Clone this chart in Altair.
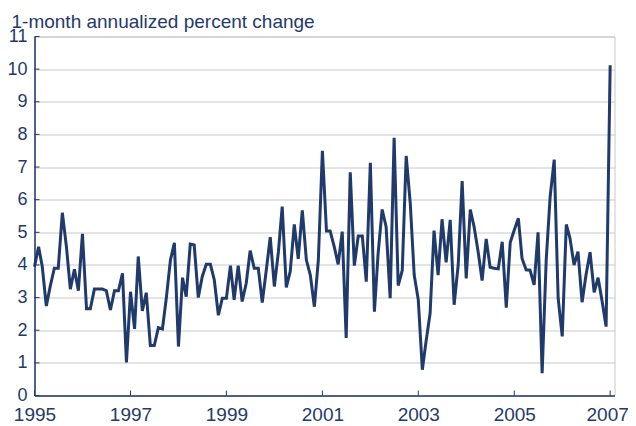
import altair as alt
import pandas as pd

NAVY = "#1f3a6b"
GRID = "#c8c8c8"
FONT = "Liberation Sans"

title_text = "1-month annualized percent change"

# Monthly values, Jan 1995 .. Jan 2007
v1995 = [3.95, 4.56, 3.95, 2.74, 3.35, 3.90, 3.90, 5.60, 4.56, 3.26, 3.87, 3.21]
v1996 = [4.95, 2.66, 2.66, 3.26, 3.26, 3.26, 3.21, 2.62, 3.21, 3.21, 3.74, 1.01]
v1997 = [3.18, 2.04, 4.26, 2.59, 3.15, 1.53, 1.53, 2.08, 2.04, 3.00, 4.15, 4.68]
v1998 = [1.50, 3.61, 3.03, 4.64, 4.61, 3.00, 3.64, 4.02, 4.02, 3.54, 2.46, 2.98]
v1999 = [2.98, 3.98, 2.93, 3.98, 2.88, 3.44, 4.44, 3.90, 3.90, 2.85, 3.85, 4.85]
v2000 = [3.34, 4.40, 5.79, 3.31, 3.80, 5.24, 4.19, 5.67, 4.15, 3.69, 2.72, 4.15]
v2001 = [7.50, 5.04, 5.04, 4.56, 4.02, 5.02, 1.76, 6.84, 3.98, 4.89, 4.89, 3.49]
v2002 = [7.13, 2.57, 4.34, 5.70, 5.17, 2.98, 7.90, 3.37, 3.83, 7.34, 5.89, 3.69]
v2003 = [2.93, 0.79, 1.65, 2.52, 5.05, 3.69, 5.40, 4.08, 5.38, 2.78, 4.00, 6.57]
v2004 = [3.59, 5.70, 5.17, 4.40, 3.52, 4.80, 3.93, 3.90, 3.88, 4.71, 2.69, 4.69]
v2005 = [5.07, 5.43, 4.20, 3.85, 3.84, 3.39, 5.00, 0.68, 4.15, 6.09, 7.23, 2.98]
v2006 = [1.81, 5.24, 4.82, 4.00, 4.41, 2.86, 3.69, 4.39, 3.16, 3.61, 2.88, 2.11]
v2007 = [10.12]

values = (v1995 + v1996 + v1997 + v1998 + v1999 + v2000 + v2001 + v2002
          + v2003 + v2004 + v2005 + v2006 + v2007)
dates = pd.date_range("1995-01-01", periods=len(values), freq="MS")
df = pd.DataFrame({"date": dates, "value": values})

tick_years = [1995, 1997, 1999, 2001, 2003, 2005, 2007]
ticks_df = pd.DataFrame({"date": pd.to_datetime([f"{y}-01-01" for y in tick_years])})
y_ticks = list(range(0, 12))
yticks_df = pd.DataFrame({"value": y_ticks})

W, H = 580, 359

xscale = alt.Scale(domain=["1995-01-01", "2007-02-03"])
yscale = alt.Scale(domain=[0, 11], nice=False)
xaxis = alt.Axis(
    values=[f"{y}-01-01" for y in tick_years], format="%Y", labelFontSize=19,
    labelFont=FONT, labelColor=NAVY, ticks=False, grid=False, domainColor=NAVY,
    domainWidth=1.5, labelPadding=10, title=None, labelFlush=False,
    labelOffset={"condition": {"test": "year(datum.value) >= 2007", "value": -3}, "value": 0},
)
yaxis = alt.Axis(
    values=y_ticks, labelFontSize=18, labelFont=FONT, labelColor=NAVY,
    ticks=False, grid=True, gridColor=GRID, gridWidth=1, domainColor=NAVY,
    domainWidth=1.5, labelPadding=7.5, title=None,
)

line = alt.Chart(df).mark_line(color=NAVY, strokeWidth=3).encode(
    x=alt.X("date:T", scale=xscale, axis=xaxis),
    y=alt.Y("value:Q", scale=yscale, axis=yaxis),
)

xticks = alt.Chart(ticks_df).mark_rule(color=NAVY, strokeWidth=1).encode(
    x=alt.X("date:T", scale=xscale, axis=xaxis),
    y=alt.value(H),
    y2=alt.value(H - 5),
)

yticks = alt.Chart(yticks_df).mark_rule(color=NAVY, strokeWidth=1).encode(
    y=alt.Y("value:Q", scale=yscale, axis=yaxis),
    x=alt.value(0),
    x2=alt.value(5),
)

chart = alt.layer(line, xticks, yticks).properties(
    width=W,
    height=H,
    padding={"left": 26.5, "top": 28.5, "right": 13.5, "bottom": 30},
    autosize=alt.AutoSizeParams(type="none"),
    title=alt.TitleParams(
        text=title_text, anchor="start", frame="group", dx=-23, dy=13.5, offset=9,
        fontSize=19, font=FONT, color=NAVY, fontWeight="normal",
    ),
).configure_view(stroke=GRID, strokeWidth=1)

chart.save("out.html", embed_options={"renderer": "svg", "actions": False})
